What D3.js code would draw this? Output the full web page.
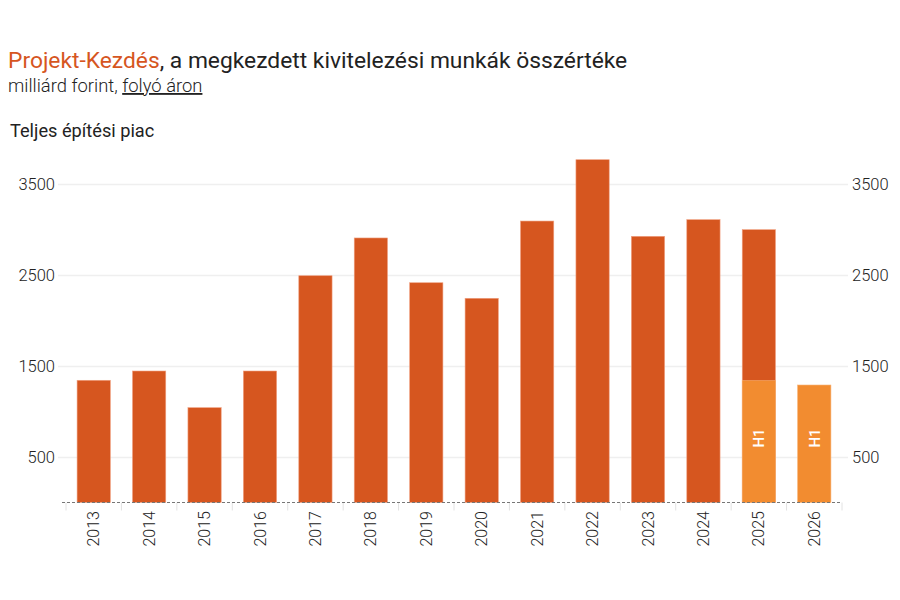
<!DOCTYPE html>
<html>
<head>
<meta charset="utf-8">
<script src="https://cdn.jsdelivr.net/npm/d3@7.9.0/dist/d3.min.js"></script>
<style>
  body { margin: 0; background: #fff; font-family: Roboto, "Noto Sans", sans-serif; }
  svg text { font-family: Roboto, "Noto Sans", sans-serif; }
</style>
</head>
<body>
<svg id="chart" width="900" height="600"></svg>
<script>
// Data (milliárd forint, folyó áron)
const years = ['2013', '2014', '2015', '2016', '2017', '2018', '2019', '2020', '2021', '2022', '2023', '2024', '2025', '2026'];
const fullYear = [1343, 1445, 1042, 1445, 2492, 2907, 2415, 2244, 3093, 3767, 2925, 3108, 2998, null];
const firstHalf = [null, null, null, null, null, null, null, null, null, null, null, null, 1339, 1291];
const yTicks = [500, 1500, 2500, 3500];

const width = 900;
const height = 600;
const margin = { top: 150, right: 58, bottom: 98, left: 66 };

const svg = d3.select('#chart');

// Title block
const title = svg.append('text').attr('x', 8).attr('y', 68).attr('font-size', 22.8).attr('fill', '#222');
title.append('tspan').attr('fill', '#d6561f').text('Projekt-Kezdés');
title.append('tspan').text(', a megkezdett kivitelezési munkák összértéke');

const sub = svg.append('text').attr('x', 8).attr('y', 92).attr('font-size', 18.4).attr('fill', '#222').attr('font-weight', 300);
sub.append('tspan').text('milliárd forint, ');
sub.append('tspan').attr('text-decoration', 'underline').text('folyó áron');

svg.append('text').attr('x', 10).attr('y', 137).attr('font-size', 18.2).attr('fill', '#222')
  .text('Teljes építési piac');

// Scales
const x = d3.scaleBand()
  .domain(years)
  .range([margin.left, width - margin.right])
  .paddingInner(0.4)
  .paddingOuter(0.2);

const y = d3.scaleLinear()
  .domain([0, 3500])
  .range([502.5, 184]);

const fmt = d3.format('d');

// Gridlines
svg.append('g')
  .attr('transform', `translate(58, 0)`)
  .call(d3.axisRight(y).tickValues(yTicks).tickSize(790).tickFormat(''))
  .call((g) => g.select('.domain').remove())
  .call((g) => g.selectAll('line').attr('stroke', '#efefef').attr('stroke-width', 1.5));

// Left axis labels
svg.append('g')
  .attr('transform', `translate(55, 0)`)
  .call(d3.axisLeft(y).tickValues(yTicks).tickSize(0).tickPadding(0).tickFormat(fmt))
  .call((g) => g.select('.domain').remove())
  .call((g) => g.selectAll('text').attr('font-size', 16.5).attr('font-weight', 300).attr('fill', '#222'));

// Right axis labels
svg.append('g')
  .attr('transform', `translate(852, 0)`)
  .call(d3.axisRight(y).tickValues(yTicks).tickSize(0).tickPadding(0).tickFormat(fmt))
  .call((g) => g.select('.domain').remove())
  .call((g) => g.selectAll('text').attr('font-size', 16.5).attr('font-weight', 300).attr('fill', '#222'));

// Band boundary ticks under baseline
const step = x.step();
const bounds = years.map((d) => x(d) - (step - x.bandwidth()) / 2).concat([x(years[years.length - 1]) + x.bandwidth() + (step - x.bandwidth()) / 2]);
svg.append('g').selectAll('line')
  .data(bounds)
  .join('line')
  .attr('x1', (d) => d).attr('x2', (d) => d)
  .attr('y1', y(0)).attr('y2', y(0) + 8)
  .attr('stroke', '#e2e2e2');

// Full-year bars
const rows = years.map((yr, i) => ({ year: yr, full: fullYear[i], h1: firstHalf[i] }));

svg.append('g').selectAll('rect')
  .data(rows.filter((d) => d.full != null))
  .join('rect')
  .attr('x', (d) => x(d.year))
  .attr('width', x.bandwidth())
  .attr('y', (d) => y(d.full))
  .attr('height', (d) => y(0) - y(d.full))
  .attr('fill', '#d6561f')
  .attr('stroke', '#f0a080')
  .attr('stroke-width', 0.6);

// H1 bars
const h1Rows = rows.filter((d) => d.h1 != null);
svg.append('g').selectAll('rect')
  .data(h1Rows)
  .join('rect')
  .attr('x', (d) => x(d.year))
  .attr('width', x.bandwidth())
  .attr('y', (d) => y(d.h1))
  .attr('height', (d) => y(0) - y(d.h1))
  .attr('fill', '#f28c30')
  .attr('stroke', '#f7b070')
  .attr('stroke-width', 0.6);

svg.append('g').selectAll('text')
  .data(h1Rows)
  .join('text')
  .attr('transform', (d) => `translate(${x(d.year) + x.bandwidth() / 2 + 5.5}, 438) rotate(-90)`)
  .attr('text-anchor', 'middle')
  .attr('font-size', 15)
  .attr('font-weight', 500)
  .attr('fill', '#fff')
  .text('H1');

// Baseline
svg.append('line')
  .attr('x1', 62).attr('x2', 842)
  .attr('y1', y(0)).attr('y2', y(0))
  .attr('stroke', '#777')
  .attr('stroke-dasharray', '3,2')
  .attr('stroke-width', 1);

// Year labels
svg.append('g').selectAll('text')
  .data(years)
  .join('text')
  .attr('transform', (d) => `translate(${x(d) + x.bandwidth() / 2 + 5.5}, 511) rotate(-90)`)
  .attr('text-anchor', 'end')
  .attr('font-size', 16)
  .attr('font-weight', 300)
  .attr('fill', '#222')
  .text((d) => d);
</script>
</body>
</html>
